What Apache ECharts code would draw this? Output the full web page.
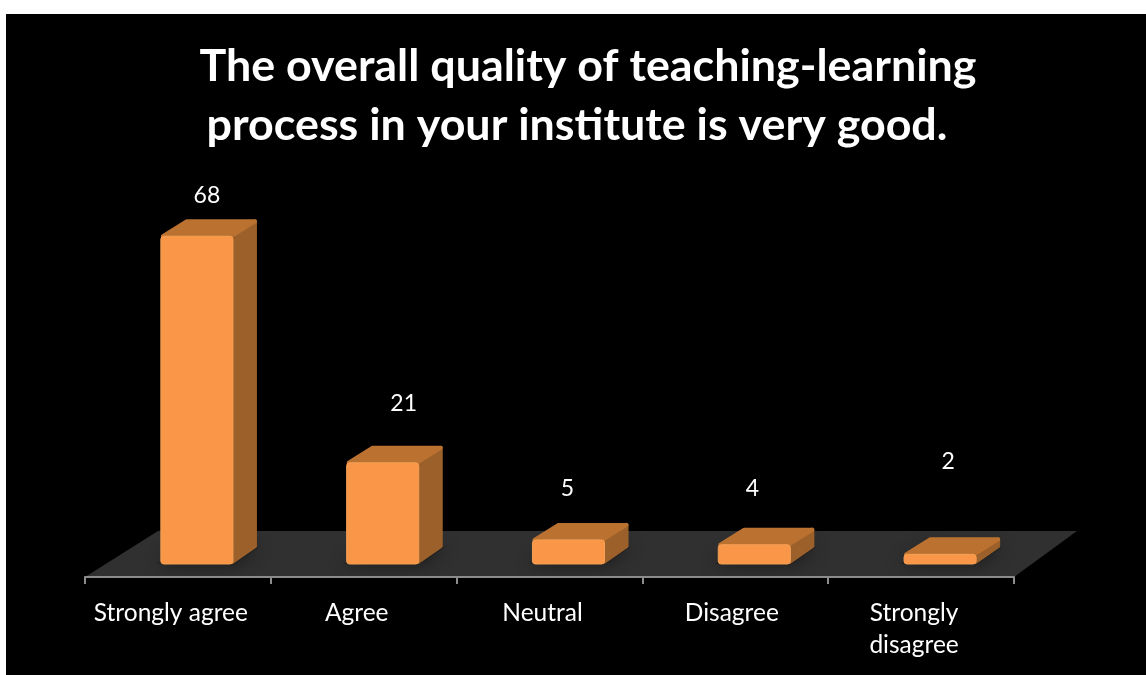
<!DOCTYPE html>
<html>
<head>
<meta charset="utf-8">
<title>Teaching-learning quality</title>
<script src="https://cdn.jsdelivr.net/npm/echarts@6/dist/echarts.min.js"></script>
<style>
html, body { margin: 0; padding: 0; background: #fff; }
#backdrop { position: absolute; left: 6px; top: 14px; right: 0; bottom: 0; background: #000; }
#main { position: absolute; left: 0; top: 0; width: 1146px; height: 675px; }
</style>
</head>
<body>
<div id="backdrop"></div>
<div id="main"></div>
<script>
const titleLines = [
  "The overall quality of teaching-learning",
  "process in your institute is very good."
];
const categories = ["Strongly agree", "Agree", "Neutral", "Disagree", "Strongly\ndisagree"];
const responses = [68, 21, 5, 4, 2];

// the value labels were placed by hand in the original: [dx, dy] from the bar's top centre
const labelNudge = [[10, -41], [21, -59], [-1, -51], [-2, -56], [8, -93]];

const FONT = "Lato";
const DEPTH_X = 24;   // fake 3d depth of the bars
const DEPTH_Y = 17;
const BAR_SHIFT = 19; // bars sit right of the band centre, on the floor

const chart = echarts.init(document.getElementById("main"));

function renderFloor(params, api) {
  const g = params.coordSys;
  const front = g.y + g.height + 13;
  const back = front - 46;
  return {
    type: "polygon",
    shape: { points: [[g.x, front], [g.x + g.width, front], [g.x + g.width + 63, back], [g.x + 73, back]] },
    style: { fill: "#303030" }
  };
}

function renderBar(params, api) {
  const idx = api.value(0);
  const val = api.value(1);
  const base = api.coord([idx, 0]);
  const top = api.coord([idx, val]);
  const w = api.size([1, 0])[0] * 0.388;
  const x0 = base[0] + BAR_SHIFT - w / 2;
  const x1 = x0 + w;
  const y0 = top[1];
  const y1 = base[1];
  const edge = { lineJoin: "round", lineWidth: 4 };
  const dx = DEPTH_X;
  const dy = DEPTH_Y;
  return {
    type: "group",
    children: [
      {
        type: "polygon",
        shape: { points: [[x0 - 4, y1], [x1 + 2, y1], [x1 + dx + 2, y1 - dy], [x0 + dx, y1 - dy]] },
        style: { fill: "#232323", shadowBlur: 16, shadowColor: "#1a1a1a" }
      },
      {
        type: "polygon",
        shape: { points: [[x1 - 1, y0 + 2], [x1 + dx - 2, y0 - dy + 2], [x1 + dx - 2, y1 - dy - 1], [x1 - 1, y1 - 2]] },
        style: Object.assign({ fill: "#9c602b", stroke: "#9c602b" }, edge)
      },
      {
        type: "polygon",
        shape: { points: [[x0 + 2, y0], [x0 + dx + 2, y0 - dy + 2], [x1 + dx - 2, y0 - dy + 2], [x1 - 2, y0]] },
        style: Object.assign({ fill: "#bb7231", stroke: "#bb7231" }, edge)
      },
      {
        type: "rect",
        shape: { x: x0, y: y0, width: w, height: y1 - y0, r: 3 },
        style: { fill: "#f99647", stroke: "#f4a055", lineWidth: 1 }
      },
      {
        type: "text",
        style: {
          text: String(val),
          x: base[0] + BAR_SHIFT + labelNudge[idx][0],
          y: y0 + labelNudge[idx][1],
          align: "center",
          verticalAlign: "middle",
          fill: "#fff",
          fontFamily: FONT,
          fontSize: 23
        }
      }
    ]
  };
}

const option = {
  animation: false,
  backgroundColor: "transparent",
  title: titleLines.map((line, i) => ({
    text: line,
    left: i === 0 ? 583 : 572,
    top: i === 0 ? 39 : 98,
    textAlign: "center",
    textStyle: { color: "#fff", fontFamily: FONT, fontWeight: "bold", fontSize: 44.8 }
  })),
  grid: { left: 85, width: 929, top: 226.6, height: 337.4 },
  xAxis: {
    type: "category",
    // "Disagree" sits a little further right than the other labels
    data: categories.map((c, i) => (i === 3 ? { value: c, textStyle: { padding: [0, 7, 0, 0] } } : c)),
    offset: 13,
    z: 5,
    axisLine: { onZero: false, lineStyle: { color: "#8c8c8c", width: 2 } },
    axisTick: { show: true, alignWithLabel: false, length: 7, lineStyle: { color: "#8c8c8c", width: 2 } },
    axisLabel: { color: "#fff", fontFamily: FONT, fontSize: 24.5, lineHeight: 32, margin: 20, padding: [0, 14, 0, 0], interval: 0 }
  },
  yAxis: { type: "value", min: 0, max: 70, show: false, splitLine: { show: false } },
  series: [
    {
      type: "custom",
      z: 1,
      silent: true,
      renderItem: renderFloor,
      data: [0],
      encode: { x: 0 }
    },
    {
      type: "custom",
      z: 2,
      renderItem: renderBar,
      data: responses.map((v, i) => [i, v]),
      encode: { x: 0, y: 1 }
    }
  ]
};

chart.setOption(option);
</script>
</body>
</html>
